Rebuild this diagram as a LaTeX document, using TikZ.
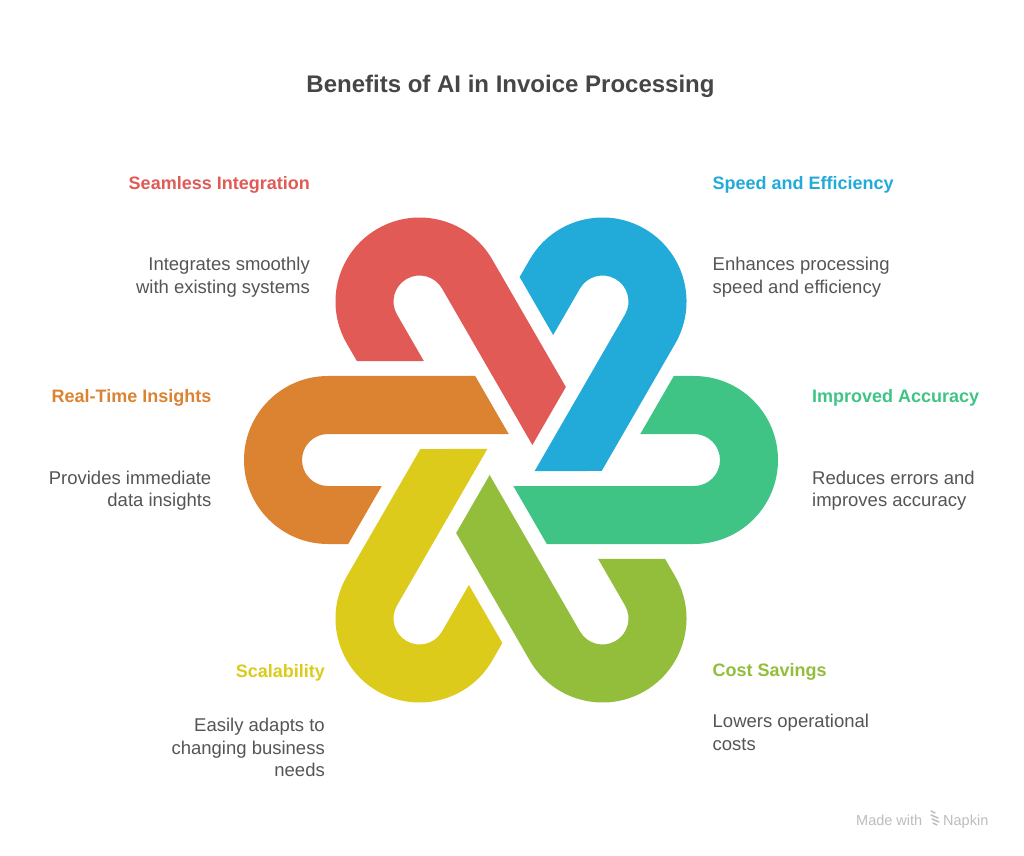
\documentclass[tikz,border=0pt]{standalone}
\usepackage{fontspec}
\setmainfont{Liberation Sans}
\definecolor{cRed}{HTML}{E15A56}
\definecolor{cBlue}{HTML}{22AAD9}
\definecolor{cGreen}{HTML}{3FC486}
\definecolor{cLime}{HTML}{93BE3C}
\definecolor{cYellow}{HTML}{DDCB1C}
\definecolor{cOrange}{HTML}{DC8332}
\definecolor{cBody}{HTML}{555555}
\definecolor{cTitle}{HTML}{464646}
\definecolor{cMark}{HTML}{BDBDBD}
\tikzset{
  titletext/.style={inner sep=0pt, text=cTitle, font=\fontsize{24}{28}\selectfont\bfseries},
  headtext/.style={inner sep=0pt, font=\fontsize{18}{22}\selectfont\bfseries},
  bodytext/.style={inner sep=0pt, text=cBody, font=\fontsize{18.5}{22.5}\selectfont},
  marktext/.style={inner sep=0pt, text=cMark, font=\fontsize{14.5}{17}\selectfont},
}
\begin{document}
\begin{tikzpicture}[x=1pt,y=1pt]
\useasboundingbox (0,0) rectangle (1024,855);
\fill[white] (0,0) rectangle (1024,855);
% knot pieces, 6-fold rotational symmetry around (511,395)
\foreach \ang/\col in {0/cOrange,60/cYellow,120/cLime,180/cGreen,240/cBlue,300/cRed}{
  \fill[\col, shift={(511,395)}, rotate=\ang]
    (-35.8,84) -- (-183,84) arc[start angle=90,end angle=270,radius=84]
    -- (-162.8,-84) -- (-129.3,-26) -- (-183,-26)
    arc[start angle=270,end angle=90,radius=26]
    -- (-2.3,26) -- cycle;
}
% title
\node[titletext, anchor=base] (title) at (510.5,762) {Benefits of AI in Invoice Processing};
% Seamless Integration
\node[headtext, text=cRed, anchor=base east] (h1) at (310,665.7) {Seamless Integration};
\node[bodytext, anchor=base east] (b1a) at (310,584) {Integrates smoothly};
\node[bodytext, anchor=base east] (b1b) at (310,561.5) {with existing systems};
% Speed and Efficiency
\node[headtext, text=cBlue, anchor=base west] (h2) at (712.5,665.7) {Speed and Efficiency};
\node[bodytext, anchor=base west] (b2a) at (712.5,584) {Enhances processing};
\node[bodytext, anchor=base west] (b2b) at (712.5,561.5) {speed and efficiency};
% Real-Time Insights
\node[headtext, text=cOrange, anchor=base east] (h3) at (211.5,452.3) {Real-Time Insights};
\node[bodytext, anchor=base east] (b3a) at (211.5,371) {Provides immediate};
\node[bodytext, anchor=base east] (b3b) at (211.5,349) {data insights};
% Improved Accuracy
\node[headtext, text=cGreen, anchor=base west] (h4) at (812,452.3) {Improved Accuracy};
\node[bodytext, anchor=base west] (b4a) at (812,371) {Reduces errors and};
\node[bodytext, anchor=base west] (b4b) at (812,349) {improves accuracy};
% Scalability
\node[headtext, text=cYellow, anchor=base east] (h5) at (325,177.7) {Scalability};
\node[bodytext, anchor=base east] (b5a) at (325,123.3) {Easily adapts to};
\node[bodytext, anchor=base east] (b5b) at (325,100.8) {changing business};
\node[bodytext, anchor=base east] (b5c) at (325,78.3) {needs};
% Cost Savings
\node[headtext, text=cLime, anchor=base west] (h6) at (712.5,178.3) {Cost Savings};
\node[bodytext, anchor=base west] (b6a) at (712.5,127.7) {Lowers operational};
\node[bodytext, anchor=base west] (b6b) at (712.5,105) {costs};
% watermark
\node[marktext, anchor=base west] (m1) at (856,30) {Made with};
\node[marktext, anchor=base west] (m2) at (943,30) {Napkin};
\coordinate (logo) at (935,37);
\begin{scope}[shift={(logo)}, cMark, line width=1.5pt, line cap=round]
  \draw (-4,7) -- (0,5);
  \draw (-4,3) -- (3,0);
  \draw (-3,-1) -- (4,-4);
  \draw (-2,-5) -- (2,-7);
\end{scope}
\end{tikzpicture}
\end{document}
